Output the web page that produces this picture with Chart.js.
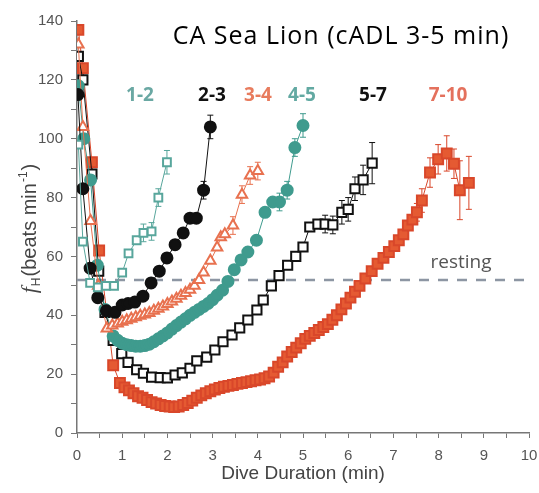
<!DOCTYPE html>
<html>
<head>
<meta charset="utf-8">
<script src="https://cdn.jsdelivr.net/npm/chart.js"></script>
<style>
  html, body { margin: 0; padding: 0; background: #fff; }
</style>
</head>
<body>
<canvas id="myChart" width="539" height="493"></canvas>
<script>
// dive duration groups (min)
const groups = ['1-2', '2-3', '3-4', '4-5', '5-7', '7-10'];

// 1-2 min dives
const x12 = [0.03, 0.13, 0.29, 0.46, 0.64, 0.82, 1.0, 1.14, 1.32, 1.47, 1.65, 1.8, 1.99];
const y12 = [98, 65, 51, 49.5, 50, 50, 54.5, 61, 65.5, 68, 68.5, 80, 92];
const err12 = [3, 3, 3, 4];

// 2-3 min dives
const x23 = [0.02, 0.13, 0.29, 0.46, 0.65, 0.84, 1.0, 1.13, 1.28, 1.46,
             1.64, 1.82, 1.99, 2.17, 2.35, 2.5, 2.64, 2.8, 2.95];
const y23 = [115, 83, 56, 46, 41.5, 41, 43.5, 44, 44.5, 46.5,
             51, 55, 59.5, 64, 68, 73, 73, 82.5, 104];
const err23 = [3, 4];

// 3-4 min dives
const x34 = [0.03, 0.13, 0.3, 0.47, 0.66, 0.78, 0.9, 1.0, 1.1, 1.2,
             1.3, 1.4, 1.5, 1.6, 1.7, 1.8, 1.9, 2.0, 2.1, 2.2,
             2.3, 2.4, 2.5, 2.6, 2.7, 2.8, 2.95, 3.1, 3.18, 3.27,
             3.45, 3.65, 3.83, 4.0];
const y34 = [132, 104, 72, 50, 35.5, 36.5, 37.2, 37.8, 38.3, 38.8,
             39.3, 39.8, 40.3, 40.8, 41.5, 42.2, 43, 43.8, 44.7, 45.6,
             46.6, 47.6, 48.7, 50, 52, 54.5, 58.5, 63, 66.5, 67.5,
             70.5, 81, 87.5, 89];
const err34 = [3, 3, 3, 3];

// 4-5 min dives
const x45 = [0.03, 0.15, 0.3, 0.45, 0.62, 0.8, 0.9, 1.0, 1.1, 1.2,
             1.3, 1.4, 1.5, 1.6, 1.7, 1.8, 1.9, 2.0, 2.1, 2.2,
             2.3, 2.4, 2.5, 2.6, 2.7, 2.8, 2.9, 3.0, 3.1, 3.22,
             3.34, 3.48, 3.63, 3.78, 3.97, 4.16, 4.33, 4.48, 4.65, 4.82,
             5.0];
const y45 = [118, 100, 86, 57, 42, 33, 31.5, 30.5, 30, 29.7,
             29.5, 29.5, 29.7, 30.2, 31, 32, 33, 34, 35.3, 36.5,
             37.7, 38.8, 40, 41, 42, 43, 44, 45.3, 46.8, 48.5,
             51.5, 55.5, 58.8, 61.5, 65.5, 75, 78.5, 78.5, 82.5, 97,
             104.5];
const err45 = [3, 3, 3, 4];

// 5-7 min dives
const x57 = [0.03, 0.13, 0.33, 0.48, 0.62, 0.8, 0.99, 1.13, 1.32, 1.47,
             1.65, 1.84, 2.0, 2.17, 2.33, 2.5, 2.65, 2.87, 3.05, 3.23,
             3.43, 3.6, 3.78, 3.98, 4.12, 4.3, 4.47, 4.66, 4.84, 5.0,
             5.15, 5.33, 5.49, 5.66, 5.86, 6.0, 6.15, 6.33, 6.53];
const y57 = [128, 120, 88, 55, 41, 31.5, 27, 24, 21.5, 20.3,
             19, 18.8, 18.7, 19.7, 20.4, 22, 24.5, 25.8, 28.2, 31,
             33.3, 35.7, 38.4, 41.8, 45.2, 50, 53.5, 57, 60, 63.2,
             70, 71, 71, 70.7, 75, 76, 83, 86, 91.7];
const err57 = [3, 3, 4, 4, 4, 5, 7];

// 7-10 min dives
const x710 = [0.03, 0.13, 0.33, 0.49, 0.8, 0.95, 1.05, 1.15, 1.25, 1.35,
              1.45, 1.55, 1.65, 1.75, 1.85, 1.95, 2.05, 2.15, 2.25, 2.35,
              2.45, 2.55, 2.65, 2.75, 2.85, 2.95, 3.05, 3.15, 3.25, 3.35,
              3.45, 3.55, 3.65, 3.75, 3.85, 3.95, 4.05, 4.15, 4.25, 4.35,
              4.45, 4.55, 4.65, 4.75, 4.85, 4.95, 5.05, 5.15, 5.25, 5.35,
              5.45, 5.55, 5.65, 5.75, 5.85, 5.95, 6.05, 6.15, 6.25, 6.38,
              6.52, 6.65, 6.78, 6.9, 7.02, 7.12, 7.22, 7.32, 7.42, 7.52,
              7.63, 7.81, 7.99, 8.18, 8.34, 8.47, 8.67];
const y710 = [137, 124, 92, 62, 23, 17, 15.5, 14.5, 13.5, 12.5,
              12, 11.2, 10.5, 10, 9.5, 9.2, 9, 8.8, 9, 9.5,
              10.2, 11, 12, 12.8, 13.5, 14.2, 14.8, 15.3, 15.7, 16,
              16.3, 16.7, 17, 17.3, 17.6, 17.9, 18.2, 18.6, 19.2, 20.5,
              22.5, 24, 26, 27.5, 29, 30.5, 32, 33, 34, 35,
              36, 37, 38.5, 40, 42, 44, 46, 48, 50, 52.5,
              55, 57.5, 59.5, 61.5, 63.5, 65.5, 67.5, 70.5, 72.5, 75,
              79, 88.5, 93, 95, 91.5, 82.5, 85];
const err710 = [3, 4, 5, 5, 6, 5, 10, 9];

const resting = 52;

function pts(xs, ys) {
    return xs.map((x, i) => ({ x: x, y: ys[i] }));
}

function series(label, xs, ys, errs, color, fill, style, radius) {
    return {
        label: label,
        data: pts(xs, ys),
        errTail: errs,
        showLine: true,
        borderColor: color,
        borderWidth: 1,
        pointStyle: style,
        pointRadius: radius,
        pointBorderWidth: 2,
        pointBackgroundColor: fill,
        pointBorderColor: color
    };
}

// error bars on the last points + all the text labels
const extras = {
    id: 'extras',
    beforeDatasetsDraw(chart) {
        const c = chart.ctx;
        const ys = chart.scales.y;
        chart.data.datasets.forEach((ds, i) => {
            if (!ds.errTail) return;
            const meta = chart.getDatasetMeta(i);
            const n = ds.data.length;
            c.save();
            c.strokeStyle = ds.borderColor;
            c.lineWidth = 1;
            ds.errTail.forEach((e, k) => {
                const j = n - ds.errTail.length + k;
                const p = meta.data[j];
                const v = ds.data[j].y;
                const top = ys.getPixelForValue(v + e);
                const bot = ys.getPixelForValue(v - e);
                c.beginPath();
                c.moveTo(p.x, top); c.lineTo(p.x, bot);
                c.moveTo(p.x - 3, top); c.lineTo(p.x + 3, top);
                c.moveTo(p.x - 3, bot); c.lineTo(p.x + 3, bot);
                c.stroke();
            });
            c.restore();
        });
    },
    afterDraw(chart) {
        const c = chart.ctx;
        c.save();
        c.textBaseline = 'middle';
        c.textAlign = 'center';

        c.fillStyle = '#000';
        c.font = '25px "Open Sans"';
        c.letterSpacing = '1px';
        c.fillText('CA Sea Lion (cADL 3-5 min)', 341, 37);
        c.letterSpacing = '0px';

        const labelX = [140, 212, 258, 302, 373, 448];
        const labelColors = ['#6aa8a3', '#111111', '#e87c5e', '#62a9a2', '#111111', '#e4715d'];
        c.font = 'bold 19px "Open Sans"';
        groups.forEach((g, i) => {
            c.fillStyle = labelColors[i];
            c.fillText(g, labelX[i], 96);
        });

        c.fillStyle = '#555';
        c.font = '19px "Open Sans"';
        c.fillText('resting', 461, 263);

        c.font = '19px "Liberation Sans"';
        c.fillStyle = '#444';
        c.fillText('Dive Duration (min)', 303, 474);

        // y axis title: fH(beats min-1)
        c.translate(29, 228);
        c.rotate(-Math.PI / 2);
        c.textAlign = 'left';
        c.textBaseline = 'alphabetic';
        const parts = [
            { t: 'f', f: 'italic 22px "Liberation Serif"', dy: 0 },
            { t: 'H', f: '12px "Liberation Sans"', dy: 4 },
            { t: '(beats min', f: '20px "Liberation Sans"', dy: 0 },
            { t: '-1', f: '12px "Liberation Sans"', dy: -9 },
            { t: ')', f: '20px "Liberation Sans"', dy: 0 }
        ];
        let w = 0;
        parts.forEach(p => { c.font = p.f; w += c.measureText(p.t).width + 1; });
        let x = -w / 2;
        parts.forEach(p => {
            c.font = p.f;
            c.fillText(p.t, x, 7 + p.dy);
            x += c.measureText(p.t).width + 1;
        });
        c.restore();
    }
};

const ctx = document.getElementById('myChart');

new Chart(ctx, {
    type: 'scatter',
    data: {
        datasets: [
            series('1-2', x12, y12, err12, '#58a69c', '#ffffff', 'rect', 5.5),
            series('2-3', x23, y23, err23, '#111111', '#111111', 'circle', 5.5),
            series('3-4', x34, y34, err34, '#e8714f', '#ffffff', 'triangle', 6),
            series('4-5', x45, y45, err45, '#3f9b8e', '#3f9b8e', 'circle', 5.5),
            series('5-7', x57, y57, err57, '#111111', '#ffffff', 'rect', 6.5),
            series('7-10', x710, y710, err710, '#d9472a', '#e55a32', 'rect', 7),
            {
                label: 'resting',
                data: [{ x: 0, y: resting }, { x: 10, y: resting }],
                showLine: true,
                borderColor: '#8d96a3',
                borderWidth: 2.5,
                borderDash: [10, 9],
                pointRadius: 0,
                order: 10
            }
        ]
    },
    options: {
        responsive: false,
        animation: false,
        layout: { padding: { top: 21, right: 10, left: 0, bottom: 0 } },
        plugins: {
            legend: { display: false },
            tooltip: { enabled: false }
        },
        scales: {
            x: {
                type: 'linear',
                min: 0,
                max: 10,
                afterFit: s => {
                    s.height = 60;
                    s.paddingLeft = 0;
                    s.paddingRight = 0;
                },
                ticks: {
                    stepSize: 0.5,
                    autoSkip: false,
                    maxRotation: 0,
                    padding: 9,
                    color: '#555',
                    font: { family: 'Liberation Sans', size: 15 },
                    callback: v => Number.isInteger(v) ? v : ''
                },
                grid: { drawOnChartArea: false, tickLength: 5, color: '#777' },
                border: { color: '#777', width: 1.5 }
            },
            y: {
                min: 0,
                max: 140,
                afterFit: s => { s.width = 77; },
                ticks: {
                    stepSize: 10,
                    padding: 8,
                    color: '#555',
                    font: { family: 'Liberation Sans', size: 15 },
                    callback: v => v % 20 === 0 ? v : ''
                },
                grid: { drawOnChartArea: false, tickLength: 6, color: '#777' },
                border: { color: '#777', width: 1.5 }
            }
        }
    },
    plugins: [extras]
});
</script>
</body>
</html>
